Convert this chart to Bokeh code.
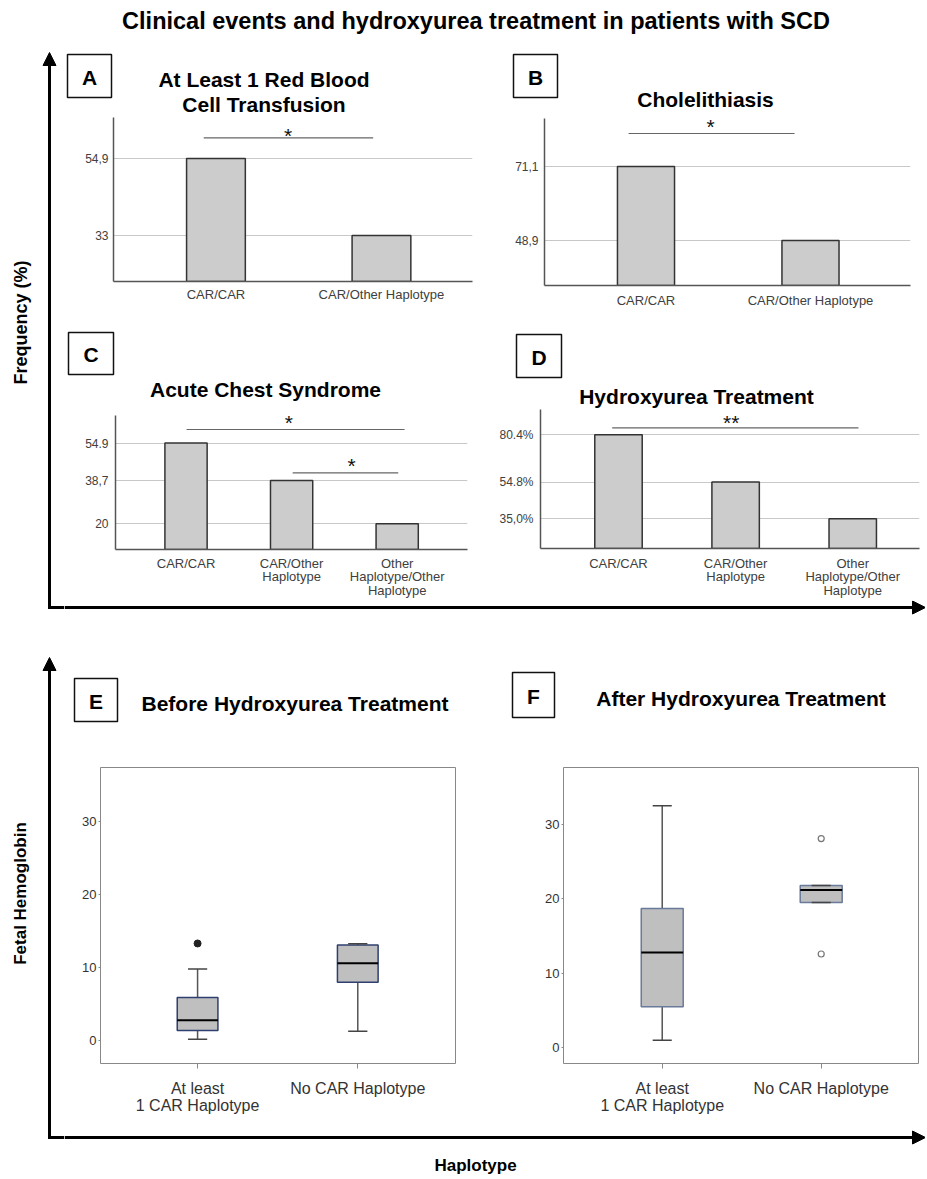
import math
from bokeh.plotting import figure
from bokeh.layouts import row, column
from bokeh.models import Range1d, FixedTicker, Arrow, NormalHead, Label
from bokeh.core.properties import value
from bokeh.embed import file_html
from bokeh.resources import INLINE

FONT = "Liberation Sans"

# ---------------- data ----------------
main_title = "Clinical events and hydroxyurea treatment in patients with SCD"
y_label_top = "Frequency (%)"
y_label_bottom = "Fetal Hemoglobin"
x_label_bottom = "Haplotype"

two_groups = ["CAR/CAR", "CAR/Other Haplotype"]
three_groups = ["CAR/CAR", "CAR/Other\nHaplotype", "Other\nHaplotype/Other\nHaplotype"]

transfusion_pct = [54.9, 33.0]
transfusion_ticks = ["54,9", "33"]
cholelithiasis_pct = [71.1, 48.9]
cholelithiasis_ticks = ["71,1", "48,9"]
acs_pct = [54.9, 38.7, 20.0]
acs_ticks = ["54.9", "38,7", "20"]
hu_pct = [80.4, 54.8, 35.0]
hu_ticks = ["80.4%", "54.8%", "35,0%"]

box_groups = ["At least\n1 CAR Haplotype", "No CAR Haplotype"]
hbf_ticks = [0, 10, 20, 30]
before_low = [0.2, 1.3]
before_q1 = [1.4, 8.0]
before_median = [2.8, 10.6]
before_q3 = [5.9, 13.1]
before_high = [9.8, 13.25]
before_outliers = [[13.3], []]
after_low = [1.0, 19.5]
after_q1 = [5.5, 19.5]
after_median = [12.8, 21.2]
after_q3 = [18.7, 21.8]
after_high = [32.5, 21.8]
after_outliers = [[], [28.1, 12.6]]


# ---------------- helpers ----------------
def no_align(p):
    try:
        p.frame_align = False
    except Exception:
        pass
    return p


def canvas(w, h):
    p = figure(width=w, height=h, x_range=Range1d(0, w), y_range=Range1d(h, 0),
               x_axis_location=None, y_axis_location=None, toolbar_location=None,
               output_backend="svg", min_border=0)
    p.grid.visible = False
    p.outline_line_color = None
    return no_align(p)


def put_text(p, x, y, t, size, bold=True, align="center", angle=0.0, color="black"):
    p.text(x=[x], y=[y], text=[t], text_font=value(FONT), text_font_size=size,
           text_font_style="bold" if bold else "normal", text_align=align,
           text_baseline="middle", angle=angle, text_color=color)


def header(w, h, box, letter, lines):
    p = canvas(w, h)
    l, t, r, b = box
    p.quad(left=[l], right=[r], top=[t], bottom=[b], fill_color=None,
           line_color="#111111", line_width=1.5)
    put_text(p, (l + r) / 2, (t + b) / 2 + 1, letter, "21px")
    for (x, y, s) in lines:
        put_text(p, x, y, s, "21px")
    return p


def bar_chart(w, h, borders, xr, yr, groups, vals, tick_labels, bw, stars, sig_lines,
              xstand, ystand, line_height=1.2, top_border=0):
    bl, br, bb = borders
    p = figure(width=w, height=h, x_range=Range1d(*xr), y_range=Range1d(*yr),
               toolbar_location=None, output_backend="svg",
               min_border_left=bl, min_border_right=br, min_border_top=top_border,
               min_border_bottom=bb)
    no_align(p)
    xs = list(range(1, len(groups) + 1))
    p.vbar(x=xs, top=vals, bottom=yr[0], width=bw, fill_color="#cccccc",
           line_color="#333333", line_width=1.5)
    for (x0, x1, y) in sig_lines:
        p.segment(x0=[x0], y0=[y], x1=[x1], y1=[y], line_color="#666666", line_width=1.2)
    for (x, y, s) in stars:
        p.add_layout(Label(x=x, y=y, text=s, text_font=FONT, text_font_size="21px",
                           text_align="center", text_baseline="middle",
                           text_color="#111111"))
    p.xaxis.ticker = FixedTicker(ticks=xs)
    p.xaxis.major_label_overrides = {x: g for x, g in zip(xs, groups)}
    p.yaxis.ticker = FixedTicker(ticks=list(vals))
    p.yaxis.major_label_overrides = {v: s for v, s in zip(vals, tick_labels)}
    for ax in (p.xaxis[0], p.yaxis[0]):
        ax.axis_line_color = "#555555"
        ax.axis_line_width = 1.5
        ax.major_tick_line_color = None
        ax.minor_tick_line_color = None
        ax.major_tick_out = 0
        ax.major_tick_in = 0
        ax.minor_tick_out = 0
        ax.major_label_text_font = FONT
        ax.major_label_text_color = "#404040"
    p.xaxis.major_label_text_font_size = "13px"
    p.xaxis.major_label_text_line_height = line_height
    p.yaxis.major_label_text_font_size = "12px"
    p.xaxis.major_label_standoff = xstand
    p.yaxis.major_label_standoff = ystand
    p.xgrid.visible = False
    p.ygrid.grid_line_color = "#c8c8c8"
    p.ygrid.grid_line_width = 1
    p.outline_line_color = None
    return p


def box_chart(w, h, borders, xr, yr, groups, lo, q1, med, q3, hi, outs, box_w, cap_w,
              box_color, filled_out):
    bl, br, bb = borders
    p = figure(width=w, height=h, x_range=Range1d(*xr), y_range=Range1d(*yr),
               toolbar_location=None, output_backend="svg",
               min_border_left=bl, min_border_right=br, min_border_top=0,
               min_border_bottom=bb)
    no_align(p)
    xs = list(range(1, len(groups) + 1))
    p.segment(x0=xs, y0=lo, x1=xs, y1=q1, line_color="#555555", line_width=1.5)
    p.segment(x0=xs, y0=q3, x1=xs, y1=hi, line_color="#555555", line_width=1.5)
    p.vbar(x=xs, bottom=q1, top=q3, width=box_w, fill_color="#bfbfbf",
           line_color=box_color, line_width=1.5)
    p.segment(x0=[x - cap_w / 2 for x in xs], y0=lo, x1=[x + cap_w / 2 for x in xs], y1=lo,
              line_color="#444444", line_width=1.5)
    p.segment(x0=[x - cap_w / 2 for x in xs], y0=hi, x1=[x + cap_w / 2 for x in xs], y1=hi,
              line_color="#444444", line_width=1.5)
    p.segment(x0=[x - box_w / 2 for x in xs], y0=med, x1=[x + box_w / 2 for x in xs], y1=med,
              line_color="black", line_width=2)
    ox = [x for x, o in zip(xs, outs) for _ in o]
    oy = [v for o in outs for v in o]
    if filled_out:
        p.scatter(ox, oy, marker="circle", size=7, fill_color="#222222", line_color="#222222")
    else:
        p.scatter(ox, oy, marker="circle", size=6, fill_color="white", line_color="#777777",
                  line_width=1.2)
    p.xaxis.ticker = FixedTicker(ticks=xs)
    p.xaxis.major_label_overrides = {x: g for x, g in zip(xs, groups)}
    p.yaxis.ticker = FixedTicker(ticks=hbf_ticks)
    for ax in (p.xaxis[0], p.yaxis[0]):
        ax.axis_line_color = None
        ax.minor_tick_line_color = None
        ax.minor_tick_out = 0
        ax.major_tick_in = 0
        ax.major_tick_line_color = "#888888"
        ax.major_label_text_font = FONT
        ax.major_label_text_color = "#333333"
    p.xaxis.major_tick_out = 5
    p.yaxis.major_tick_out = 2
    p.xaxis.major_label_text_font_size = "16px"
    p.xaxis.major_label_text_line_height = 1.05
    p.yaxis.major_label_text_font_size = "13px"
    p.xaxis.major_label_standoff = 11
    p.yaxis.major_label_standoff = 2
    p.grid.visible = False
    p.outline_line_color = "#888888"
    p.outline_line_width = 1
    return p


def arrow_head():
    return NormalHead(size=13, fill_color="black", line_color="black", line_width=1)


# ---------------- title ----------------
title_fig = canvas(925, 38)
put_text(title_fig, 475.5, 20, main_title, "23.5px")

# ---------------- section 1 ----------------
left1 = canvas(64, 610)
left1.line([64, 49, 49], [569, 569, 30], line_color="black", line_width=3, line_join="miter")
left1.add_layout(Arrow(end=arrow_head(), x_start=49, y_start=40, x_end=49, y_end=14,
                       line_width=3, line_color="black"))
put_text(left1, 20, 284, y_label_top, "18px", angle=math.pi / 2)

hA = header(426, 79, (3, 16, 47, 59), "A",
            [(199.5, 40.5, "At Least 1 Red Blood"), (199.5, 66, "Cell Transfusion")])
cA = bar_chart(426, 203, (49, 18, 39), (0.381, 2.550), (19.92, 66.56), two_groups,
               transfusion_pct, transfusion_ticks, 0.355,
               [(1.436, 61.5, "*")], [(0.926, 1.950, 60.79)], 5, 5)

hB = header(435, 74, (23, 16, 67, 59), "B", [(215, 61, "Cholelithiasis")])
cB = bar_chart(435, 208, (54, 15, 35), (0.383, 2.608), (35.4, 85.5), two_groups,
               cholelithiasis_pct, cholelithiasis_ticks, 0.347,
               [(1.392, 83.2, "*")], [(0.894, 1.903, 81.0)], 7, 6, top_border=6)

hC = header(426, 87, (4, 12, 49, 54), "C", [(201, 69, "Acute Chest Syndrome")])
cC = bar_chart(426, 193, (51, 23, 50), (0.332, 3.666), (8.9, 66.8), three_groups,
               acs_pct, acs_ticks, 0.40,
               [(1.974, 63.6, "*"), (2.569, 45.0, "*")],
               [(1.005, 3.07, 60.76), (2.01, 3.01, 42.04)], 6, 7, 0.9, top_border=8)

hD = header(435, 89, (26, 14, 71, 57), "D", [(206, 76, "Hydroxyurea Treatment")])
cD = bar_chart(435, 191, (50, 6, 50), (0.334, 3.570), (18.9, 94.0), three_groups,
               hu_pct, hu_ticks, 0.405,
               [(1.963, 86.9, "**")], [(0.946, 3.049, 84.05)], 7, 7, 0.9)

bottom1 = canvas(861, 48)
bottom1.add_layout(Arrow(end=arrow_head(), x_start=0, y_start=7, x_end=861, y_end=7,
                         line_width=3, line_color="black"))

# ---------------- section 2 ----------------
left2 = canvas(64, 529)
left2.line([64, 49, 49], [489, 489, 30], line_color="black", line_width=3, line_join="miter")
left2.add_layout(Arrow(end=arrow_head(), x_start=49, y_start=40, x_end=49, y_end=9,
                       line_width=3, line_color="black"))
put_text(left2, 20, 245, y_label_bottom, "17px", angle=math.pi / 2)

hE = header(426, 119, (10, 30, 53, 73), "E", [(230.5, 55, "Before Hydroxyurea Treatment")])
cE = box_chart(426, 361, (36, 35, 65), (0.394, 2.61), (-3.12, 37.37), box_groups,
               before_low, before_q1, before_median, before_q3, before_high, before_outliers,
               0.254, 0.12, "#2f3f6f", True)

hF = header(435, 119, (22, 24, 64, 69), "F", [(250.5, 50, "After Hydroxyurea Treatment")])
cF = box_chart(435, 361, (73, 7, 65), (0.379, 2.612), (-2.11, 37.65), box_groups,
               after_low, after_q1, after_median, after_q3, after_high, after_outliers,
               0.264, 0.12, "#6a7a9a", False)

bottom2 = canvas(861, 49)
bottom2.add_layout(Arrow(end=arrow_head(), x_start=0, y_start=9, x_end=861, y_end=9,
                         line_width=3, line_color="black"))
put_text(bottom2, 411, 37, x_label_bottom, "17px")

layout = column(
    title_fig,
    row(left1, column(row(column(hA, cA), column(hB, cB)),
                      row(column(hC, cC), column(hD, cD)),
                      bottom1)),
    row(left2, column(row(column(hE, cE), column(hF, cF)), bottom2)),
)

open("out.html", "w").write(file_html(layout, INLINE))
